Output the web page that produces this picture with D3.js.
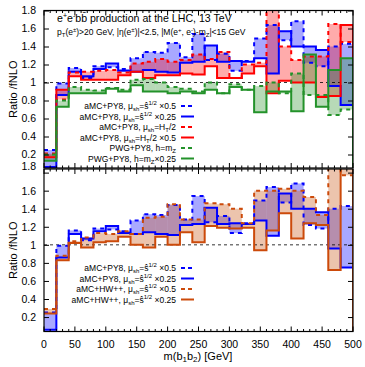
<!DOCTYPE html>
<html>
<head>
<meta charset="utf-8">
<script src="https://cdn.jsdelivr.net/npm/d3@7"></script>
<style>
  html, body { margin: 0; padding: 0; background: #fff; }
  svg { display: block; }
  text { font-family: "Liberation Sans", Arial, Helvetica, sans-serif; fill: #000; }
</style>
</head>
<body>
<svg id="chart" width="365" height="367"></svg>
<script>
// lower edges of the m(b1b2) bins [GeV], each bin 20 GeV wide
const binLow = [0, 20, 40, 60, 80, 100, 120, 140, 160, 180, 200, 220, 240,
                260, 280, 300, 320, 340, 360, 380, 400, 420, 440, 460, 480];
const binWidth = 20;

// ratio to fixed-order NLO, per bin
const amcPy8Half    = [0.25, 0.99, 1.16, 1.05, 1.18, 1.17, 1.15, 1.27, 1.34, 1.33, 1.44, 1.28, 1.54,
                       1.25, 1.32, 1.13, 1.24, 1.49, 1.64, 1.47, 1.68, 1.22, 1.18, 1.40, 1.43];
const amcPy8Quarter = [0.06, 0.86, 1.12, 1.07, 1.15, 1.21, 1.13, 1.12, 1.14, 1.12, 1.11, 1.22, 1.23,
                       1.41, 1.23, 1.24, 1.23, 1.27, 1.10, 1.57, 1.40, 1.40, 1.36, 0.96, 0.75];
const amcPy8Ht      = [0.21, 0.81, 1.11, 1.12, 1.13, 1.14, 1.11, 1.21, 1.23, 1.26, 1.23, 1.25, 1.31,
                       1.26, 1.34, 1.05, 1.20, 1.22, 1.90, 1.40, 1.25, 1.29, 1.29, 1.65, 1.45];
const amcPy8HtHalf  = [0.17, 0.92, 1.07, 1.03, 1.03, 1.03, 1.08, 1.12, 1.05, 1.08, 1.08, 1.10, 1.09,
                       1.18, 1.05, 1.05, 1.10, 1.18, 0.88, 1.02, 1.00, 1.00, 0.84, 0.85, 1.64];
const pwgPy8Mz      = [0.20, 0.80, 0.95, 0.92, 0.91, 0.94, 0.92, 1.03, 1.04, 1.00, 0.95, 0.93, 0.90,
                       1.00, 0.88, 0.98, 0.92, 0.96, 1.00, 0.88, 1.10, 0.86, 0.86, 0.64, 0.70];
const pwgPy8MzQuarter = [0.13, 0.73, 0.88, 0.88, 0.88, 0.93, 0.90, 0.97, 0.90, 0.90, 0.88, 0.90, 0.88,
                       0.92, 0.88, 0.95, 0.92, 0.67, 0.90, 0.90, 0.68, 1.31, 0.73, 1.14, 1.27];
const amcHwHalf     = [0.29, 0.88, 1.04, 1.08, 1.13, 1.12, 1.15, 1.12, 1.30, 1.31, 1.45, 1.28, 1.28,
                       1.46, 1.45, 1.40, 1.24, 1.60, 1.60, 1.62, 1.60, 1.53, 1.33, 1.85, 1.77];
const amcHwQuarter  = [0.24, 0.83, 1.02, 0.97, 1.03, 1.04, 1.09, 1.00, 0.97, 1.09, 1.00, 1.14, 1.03,
                       1.21, 1.19, 1.18, 1.19, 0.94, 1.16, 1.35, 1.07, 1.24, 1.22, 0.72, 1.85];

const yTicks = [0.2, 0.4, 0.6, 0.8, 1, 1.2, 1.4, 1.6, 1.8];
const xTicks = [0, 50, 100, 150, 200, 250, 300, 350, 400, 450, 500];
const xMinor = [0, 10, 20, 30, 40, 50, 60, 70, 80, 90, 100, 110, 120, 130, 140, 150, 160, 170, 180,
                190, 200, 210, 220, 230, 240, 250, 260, 270, 280, 290, 300, 310, 320, 330, 340, 350,
                360, 370, 380, 390, 400, 410, 420, 430, 440, 450, 460, 470, 480, 490, 500];

const C = {
  blue: "#0000ff", blueFill: "rgba(0,0,255,0.34)",
  red: "#ff0000", redFill: "rgba(255,0,0,0.33)",
  green: "#23922a", greenFill: "rgba(30,140,30,0.32)",
  brown: "#cc4a0a", brownFill: "rgba(205,100,40,0.38)"
};

const svg = d3.select("#chart");
svg.append("rect").attr("width", 365).attr("height", 367).attr("fill", "#fff");

const x = d3.scaleLinear().domain([0, 500]).range([44, 353]);

const panels = [
  { id: "top", y: d3.scaleLinear().domain([0.05, 1.8]).range([168, 10.5]),
    pairs: [
      { dashed: amcPy8Half, solid: amcPy8Quarter, col: C.blue, fill: C.blueFill },
      { dashed: amcPy8Ht, solid: amcPy8HtHalf, col: C.red, fill: C.redFill },
      { dashed: pwgPy8Mz, solid: pwgPy8MzQuarter, col: C.green, fill: C.greenFill }
    ],
    legend: [
      ["aMC+PY8, ", "μ", "sh", "=ŝ", "1/2", " ×0.5", C.blue, true],
      ["aMC+PY8, ", "μ", "sh", "=ŝ", "1/2", " ×0.25", C.blue, false],
      ["aMC+PY8, ", "μ", "sh", "=H", "T", "/2", C.red, true, "sub"],
      ["aMC+PY8, ", "μ", "sh", "=H", "T", "/2 ×0.5", C.red, false, "sub"],
      ["PWG+PY8, h=m", "", "", "", "Z", "", C.green, true, "sub"],
      ["PWG+PY8, h=m", "", "", "", "Z", "×0.25", C.green, false, "sub"]
    ],
    legendY: 106
  },
  { id: "bot", y: d3.scaleLinear().domain([0.04, 1.84]).range([331.5, 169]),
    pairs: [
      { dashed: amcPy8Half, solid: amcPy8Quarter, col: C.blue, fill: C.blueFill },
      { dashed: amcHwHalf, solid: amcHwQuarter, col: C.brown, fill: C.brownFill }
    ],
    legend: [
      ["aMC+PY8, ", "μ", "sh", "=ŝ", "1/2", " ×0.5", C.blue, true],
      ["aMC+PY8, ", "μ", "sh", "=ŝ", "1/2", " ×0.25", C.blue, false],
      ["aMC+HW++, ", "μ", "sh", "=ŝ", "1/2", " ×0.5", C.brown, true],
      ["aMC+HW++, ", "μ", "sh", "=ŝ", "1/2", " ×0.25", C.brown, false]
    ],
    legendY: 268
  }
];

panels.forEach((p, pi) => {
  const y = p.y;
  const [yb, yt] = y.range();
  const g = svg.append("g");
  const clipId = "clip-" + p.id;
  svg.append("clipPath").attr("id", clipId).append("rect")
    .attr("x", 44).attr("y", yt).attr("width", 309).attr("height", yb - yt);

  const plot = g.append("g").attr("clip-path", `url(#${clipId})`);

  // uncertainty bands between the two scale choices
  p.pairs.forEach(pr => {
    plot.append("g").selectAll("rect").data(binLow).join("rect")
      .attr("x", d => x(d))
      .attr("width", d => x(d + binWidth) - x(d))
      .attr("y", (d, i) => y(Math.max(pr.dashed[i], pr.solid[i])))
      .attr("height", (d, i) => Math.abs(y(pr.dashed[i]) - y(pr.solid[i])))
      .attr("fill", pr.fill);
  });

  // reference line at ratio 1
  plot.append("line").attr("x1", 44).attr("x2", 353)
    .attr("y1", y(1)).attr("y2", y(1))
    .attr("stroke", "#000").attr("stroke-width", 0.8).attr("stroke-dasharray", "3,3");

  // histogram step lines, closing down to the axis at the last edge
  const step = vals => {
    const pts = [];
    binLow.forEach((d, i) => { pts.push([x(d), y(vals[i])]); pts.push([x(d + binWidth), y(vals[i])]); });
    pts.push([x(500), yb]);
    return d3.line()(pts);
  };
  p.pairs.forEach(pr => {
    plot.append("path").attr("d", step(pr.solid)).attr("fill", "none")
      .attr("stroke", pr.col).attr("stroke-width", 2);
    plot.append("path").attr("d", step(pr.dashed)).attr("fill", "none")
      .attr("stroke", pr.col).attr("stroke-width", 2).attr("stroke-dasharray", "4,4");
  });

  // frame
  g.append("rect").attr("x", 44).attr("y", yt).attr("width", 309).attr("height", yb - yt)
    .attr("fill", "none").attr("stroke", "#000").attr("stroke-width", 1.2);

  // y axis (left labels, mirrored ticks on the right)
  const yAx = d3.axisLeft(y).tickValues(yTicks).tickSize(-5).tickPadding(8)
    .tickFormat(d => d3.format("")(d));
  const ya = g.append("g").attr("transform", "translate(44,0)").call(yAx);
  ya.select(".domain").remove();
  ya.selectAll("line").attr("stroke-width", 1);
  ya.selectAll("text").attr("font-size", 10.5);
  if (pi === 1) ya.selectAll(".tick").filter(d => d === 1.8).select("text").attr("dy", "-0.3em");
  const yr = g.append("g").attr("transform", "translate(353,0)")
    .call(d3.axisRight(y).tickValues(yTicks).tickSize(-5).tickFormat(""));
  yr.select(".domain").remove();

  // x ticks on both edges
  [[yb, -1], [yt, 1]].forEach(([yy, dir]) => {
    g.append("g").selectAll("line").data(xMinor).join("line")
      .attr("x1", d => x(d)).attr("x2", d => x(d))
      .attr("y1", yy).attr("y2", d => yy + dir * (d % 50 === 0 ? 5 : 2.5))
      .attr("stroke", "#000").attr("stroke-width", 1);
  });

  if (pi === 1) {
    g.append("g").selectAll("text").data(xTicks).join("text")
      .attr("x", d => x(d)).attr("y", yb + 16).attr("text-anchor", "middle")
      .attr("font-size", 10.5).text(d => d);
  }

  // y title
  const yMid = (yt + yb) / 2;
  g.append("text").attr("transform", `translate(17,${yMid}) rotate(-90)`)
    .attr("text-anchor", "middle").attr("font-size", 11).text("Ratio /fNLO");

  // legend
  p.legend.forEach((L, i) => {
    const ly = p.legendY + i * 10.5;
    const t = g.append("text").attr("x", 176).attr("y", ly + 3).attr("text-anchor", "end")
      .attr("font-size", 8.5);
    t.append("tspan").text(L[0]);
    if (L[1]) t.append("tspan").text(L[1]);
    if (L[2]) t.append("tspan").attr("font-size", 6).attr("dy", 2).text(L[2]);
    if (L[3]) t.append("tspan").attr("dy", L[2] ? -2 : 0).text(L[3]);
    if (L[8] === "sub") {
      t.append("tspan").attr("font-size", 6).attr("dy", 2).text(L[4]);
      t.append("tspan").attr("dy", -2).text(L[5]);
    } else {
      t.append("tspan").attr("font-size", 6).attr("dy", -4).text(L[4]);
      t.append("tspan").attr("dy", 4).text(L[5]);
    }
    g.append("line").attr("x1", 181).attr("x2", 194).attr("y1", ly).attr("y2", ly)
      .attr("stroke", L[6]).attr("stroke-width", 2)
      .attr("stroke-dasharray", L[7] ? "4,3" : null);
  });
});

// title block
const title = svg.append("text").attr("x", 57).attr("y", 22).attr("font-size", 10.6);
title.append("tspan").text("e");
title.append("tspan").attr("font-size", 7).attr("dy", -4).text("+");
title.append("tspan").attr("dy", 4).text("e");
title.append("tspan").attr("font-size", 7).attr("dy", -4).text("-");
title.append("tspan").attr("dy", 4).text("bb̄ production at the LHC, 13 TeV");

const sub = svg.append("text").attr("x", 57).attr("y", 35).attr("font-size", 8.5);
sub.append("tspan").text("p");
sub.append("tspan").attr("font-size", 6).attr("dy", 2).text("T");
sub.append("tspan").attr("dy", -2).text("(e");
sub.append("tspan").attr("font-size", 6).attr("dy", -3).text("±");
sub.append("tspan").attr("dy", 3).text(")>20 GeV, |η(e");
sub.append("tspan").attr("font-size", 6).attr("dy", -3).text("±");
sub.append("tspan").attr("dy", 3).text(")|<2.5, |M(e");
sub.append("tspan").attr("font-size", 6).attr("dy", -3).text("+");
sub.append("tspan").attr("dy", 3).text(", e");
sub.append("tspan").attr("font-size", 6).attr("dy", -3).text("-");
sub.append("tspan").attr("dy", 3).text(")-m");
sub.append("tspan").attr("font-size", 6).attr("dy", 2).text("Z");
sub.append("tspan").attr("dy", -2).text("|<15 GeV");

// x title
const xt = svg.append("text").attr("x", 198).attr("y", 360).attr("text-anchor", "middle").attr("font-size", 11);
xt.append("tspan").text("m(b");
xt.append("tspan").attr("font-size", 8).attr("dy", 2).text("1");
xt.append("tspan").attr("dy", -2).text("b");
xt.append("tspan").attr("font-size", 8).attr("dy", 2).text("2");
xt.append("tspan").attr("dy", -2).text(") [GeV]");
</script>
</body>
</html>
